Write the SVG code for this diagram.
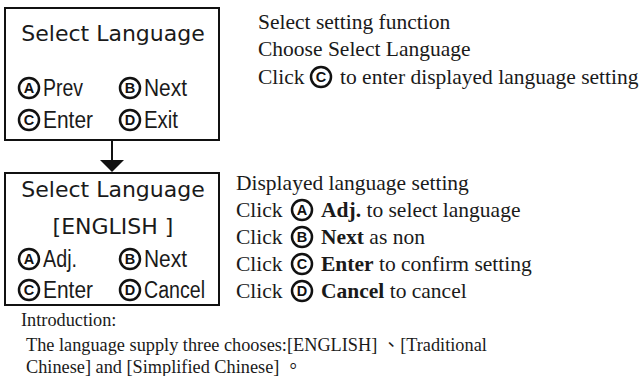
<svg xmlns="http://www.w3.org/2000/svg" width="644" height="376" viewBox="0 0 644 376">
<defs>
<style>
.box{fill:#fff;stroke:#111;stroke-width:2}
.title{font-family:"DejaVu Sans",sans-serif;font-size:22px;fill:#1a1a1a;text-anchor:middle}
.btn{fill:#fff;stroke:#111;stroke-width:2.5}
.bl{font-family:"Liberation Sans",Arial,sans-serif;font-weight:bold;font-size:14.5px;fill:#111;text-anchor:middle}
.lab{font-family:"Liberation Sans",Arial,sans-serif;font-size:23px;fill:#1a1a1a}
.ser{font-family:"Liberation Serif","Times New Roman",serif;font-size:21.5px;fill:#1a1a1a}
.sb{font-weight:bold}
.intro{font-family:"Liberation Serif","Times New Roman","Noto Sans CJK TC",serif;font-size:18.3px;fill:#1a1a1a}
.conn{stroke:#111;stroke-width:2;fill:none}
</style>
</defs>
<rect width="644" height="376" fill="#fff"/>

<g id="box1">
<rect class="box" x="5" y="8" width="214" height="132"/>
<text class="title" x="113" y="41">Select Language</text>
<circle class="btn" cx="29" cy="88" r="10"/><text class="bl" x="29" y="93.2">A</text>
<text class="lab" x="43" y="96" textLength="40" lengthAdjust="spacingAndGlyphs">Prev</text>
<circle class="btn" cx="130" cy="88" r="10"/><text class="bl" x="130" y="93.2">B</text>
<text class="lab" x="144" y="96" textLength="43" lengthAdjust="spacingAndGlyphs">Next</text>
<circle class="btn" cx="29" cy="120" r="10"/><text class="bl" x="29" y="125.2">C</text>
<text class="lab" x="43" y="128" textLength="50" lengthAdjust="spacingAndGlyphs">Enter</text>
<circle class="btn" cx="130" cy="120" r="10"/><text class="bl" x="130" y="125.2">D</text>
<text class="lab" x="144" y="128" textLength="34" lengthAdjust="spacingAndGlyphs">Exit</text>
</g>

<g id="connectors">
<line class="conn" x1="112" y1="140" x2="112" y2="161"/>
<polygon points="100,160 124,160 112,172" fill="#111"/>
</g>

<g id="box2">
<rect class="box" x="5" y="173" width="214" height="132"/>
<text class="title" x="113" y="197">Select Language</text>
<text class="title" x="113" y="234">[ENGLISH ]</text>
<circle class="btn" cx="29" cy="259" r="10"/><text class="bl" x="29" y="264.2">A</text>
<text class="lab" x="43" y="267" textLength="34" lengthAdjust="spacingAndGlyphs">Adj.</text>
<circle class="btn" cx="130" cy="259" r="10"/><text class="bl" x="130" y="264.2">B</text>
<text class="lab" x="144" y="267" textLength="43" lengthAdjust="spacingAndGlyphs">Next</text>
<circle class="btn" cx="29" cy="290" r="10"/><text class="bl" x="29" y="295.2">C</text>
<text class="lab" x="43" y="298" textLength="50" lengthAdjust="spacingAndGlyphs">Enter</text>
<circle class="btn" cx="130" cy="290" r="10"/><text class="bl" x="130" y="295.2">D</text>
<text class="lab" x="144" y="298" textLength="61" lengthAdjust="spacingAndGlyphs">Cancel</text>
</g>

<g id="desc1">
<text class="ser" x="258" y="29">Select setting function</text>
<text class="ser" x="258" y="56">Choose Select Language</text>
<text class="ser" x="258" y="84">Click</text>
<circle class="btn" cx="321" cy="77" r="10"/><text class="bl" x="321" y="82.2">C</text>
<text class="ser" x="340" y="84">to enter displayed language setting</text>
</g>

<g id="desc2">
<text class="ser" x="236" y="190">Displayed language setting</text>
<text class="ser" x="236" y="217">Click</text>
<circle class="btn" cx="302" cy="210" r="10"/><text class="bl" x="302" y="215.2">A</text>
<text class="ser" x="321" y="217"><tspan class="sb">Adj.</tspan> to select language</text>
<text class="ser" x="236" y="244">Click</text>
<circle class="btn" cx="302" cy="237" r="10"/><text class="bl" x="302" y="242.2">B</text>
<text class="ser" x="321" y="244"><tspan class="sb">Next</tspan> as non</text>
<text class="ser" x="236" y="271">Click</text>
<circle class="btn" cx="302" cy="264" r="10"/><text class="bl" x="302" y="269.2">C</text>
<text class="ser" x="321" y="271"><tspan class="sb">Enter</tspan> to confirm setting</text>
<text class="ser" x="236" y="298">Click</text>
<circle class="btn" cx="302" cy="291" r="10"/><text class="bl" x="302" y="296.2">D</text>
<text class="ser" x="321" y="298"><tspan class="sb">Cancel</tspan> to cancel</text>
</g>

<g id="intro">
<text class="intro" x="21" y="326">Introduction:</text>
<text class="intro" x="26" y="351">The language supply three chooses:[ENGLISH] 、[Traditional</text>
<text class="intro" x="26" y="373">Chinese] and [Simplified Chinese] 。</text>
</g>
</svg>
